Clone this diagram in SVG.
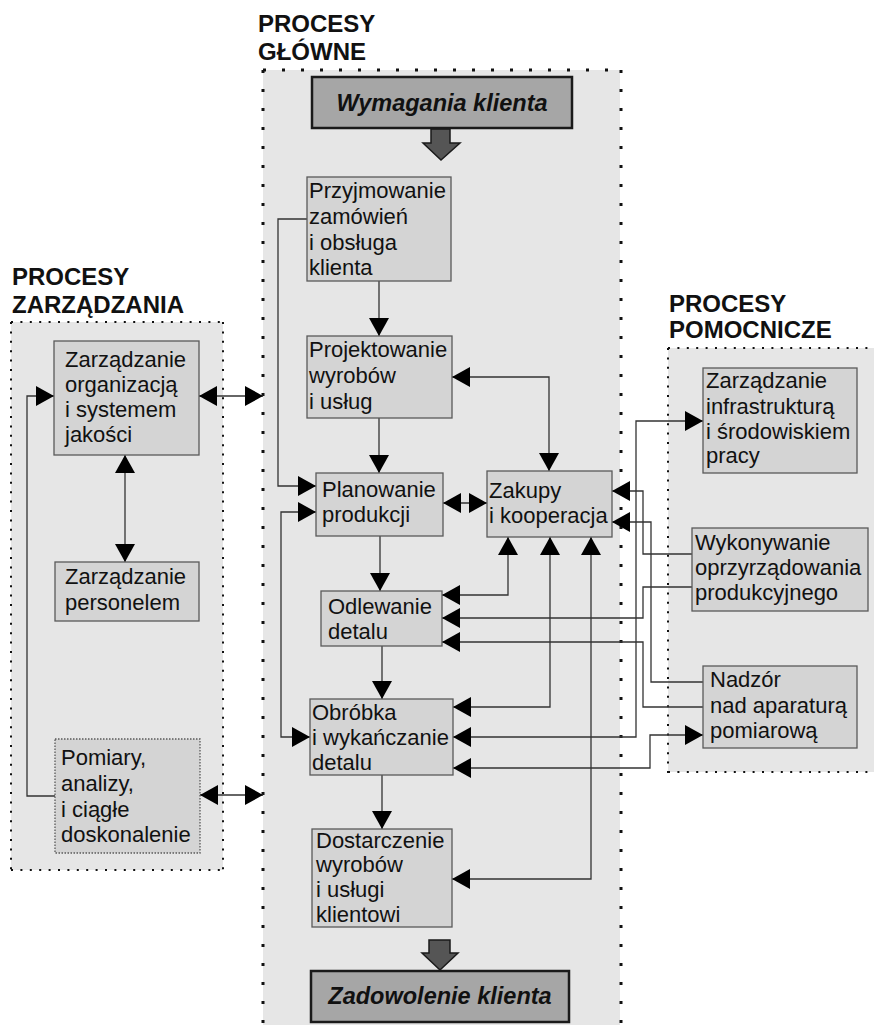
<svg xmlns="http://www.w3.org/2000/svg" width="874" height="1025" viewBox="0 0 874 1025">
<defs>
<style>
.t{font-family:"Liberation Sans",Arial,sans-serif;font-size:22px;fill:#111}
.h{font-family:"Liberation Sans",Arial,sans-serif;font-size:24px;font-weight:bold;fill:#111}
.big{font-family:"Liberation Sans",Arial,sans-serif;font-size:23.5px;font-weight:bold;font-style:italic;fill:#111}
.n{fill:#d4d4d4;stroke:#5a5a5a;stroke-width:1.3}
.bb{fill:#a6a6a6;stroke:#1a1a1a;stroke-width:2.5}
.c{fill:none;stroke:#333;stroke-width:1.3}
.pf{fill:#e6e6e6}
.d1{stroke:#111;stroke-width:3;stroke-dasharray:3 16}
.d2{stroke:#111;stroke-width:2;stroke-dasharray:2 7.4}
.ba{fill:#555;stroke:#1a1a1a;stroke-width:1.5}
</style>
<marker id="ah" viewBox="0 0 18 20" refX="18" refY="10" markerWidth="18" markerHeight="20" markerUnits="userSpaceOnUse" orient="auto-start-reverse"><path d="M0,0 L18,10 L0,20 z" fill="#000"/></marker>
</defs>
<rect width="874" height="1025" fill="#fff"/>

<g id="panels">
<rect class="pf" x="263" y="70" width="357" height="960"/>
<line class="d1" x1="263" y1="70" x2="622" y2="70"/>
<line class="d1" x1="263" y1="70" x2="263" y2="1025"/>
<line class="d1" x1="621" y1="70" x2="621" y2="1025"/>
<text class="h" x="258" y="32">PROCESY</text>
<text class="h" x="258" y="60">GŁÓWNE</text>

<rect class="pf" x="11" y="322" width="212" height="548"/>
<line class="d2" x1="11" y1="322" x2="224" y2="322"/>
<line class="d2" x1="11" y1="322" x2="11" y2="871"/>
<line class="d2" x1="223" y1="322" x2="223" y2="871"/>
<line class="d2" x1="11" y1="870" x2="224" y2="870"/>
<text class="h" x="12" y="285">PROCESY</text>
<text class="h" x="12" y="313">ZARZĄDZANIA</text>

<rect class="pf" x="668" y="348" width="206" height="424"/>
<line class="d2" x1="668" y1="348" x2="874" y2="348"/>
<line class="d2" x1="668" y1="348" x2="668" y2="773"/>
<line class="d2" x1="668" y1="772" x2="874" y2="772"/>
<text class="h" x="669" y="312">PROCESY</text>
<text class="h" x="669" y="338">POMOCNICZE</text>
</g>

<g id="connectors">
<path class="c" d="M379,281 V336" marker-end="url(#ah)"/>
<path class="c" d="M379,418 V473" marker-end="url(#ah)"/>
<path class="c" d="M452,377 H549 V471" marker-start="url(#ah)" marker-end="url(#ah)"/>
<path class="c" d="M307,219 H278 V486 H316" marker-end="url(#ah)"/>
<path class="c" d="M316,512 H281 V737 H310" marker-start="url(#ah)" marker-end="url(#ah)"/>
<path class="c" d="M443,503 H487" marker-start="url(#ah)" marker-end="url(#ah)"/>
<path class="c" d="M380,536 V591" marker-end="url(#ah)"/>
<path class="c" d="M508,537 V595 H442" marker-start="url(#ah)" marker-end="url(#ah)"/>
<path class="c" d="M550,537 V707 H453" marker-start="url(#ah)" marker-end="url(#ah)"/>
<path class="c" d="M591,537 V879 H452" marker-start="url(#ah)" marker-end="url(#ah)"/>
<path class="c" d="M382,646 V699" marker-end="url(#ah)"/>
<path class="c" d="M382,775 V829" marker-end="url(#ah)"/>
<path class="c" d="M692,554 H643 V491 H612" marker-end="url(#ah)"/>
<path class="c" d="M703,682 H651 V522 H612" marker-end="url(#ah)"/>
<path class="c" d="M692,587 H643 V618 H442" marker-end="url(#ah)"/>
<path class="c" d="M703,707 H643 V642 H442" marker-end="url(#ah)"/>
<path class="c" d="M453,737 H636 V421 H703" marker-start="url(#ah)" marker-end="url(#ah)"/>
<path class="c" d="M453,768 H650 V735 H703" marker-start="url(#ah)" marker-end="url(#ah)"/>
<path class="c" d="M199,396 H263" marker-start="url(#ah)" marker-end="url(#ah)"/>
<path class="c" d="M125,455 V562" marker-start="url(#ah)" marker-end="url(#ah)"/>
<path class="c" d="M55,796 H27 V396 H54" marker-end="url(#ah)"/>
<path class="c" d="M200,795 H263" marker-start="url(#ah)" marker-end="url(#ah)"/>
<polygon class="ba" points="431,129 450,129 450,143 460,143 441,160 423,143 431,143"/>
<polygon class="ba" points="429,940 450,940 450,953 458,953 440,970 422,953 429,953"/>
</g>

<g id="wymagania">
<rect class="bb" x="312" y="77" width="260" height="51"/>
<text class="big" x="442" y="111" text-anchor="middle">Wymagania klienta</text>
</g>
<g id="zadowolenie">
<rect class="bb" x="311" y="971" width="258" height="51"/>
<text class="big" x="440" y="1004" text-anchor="middle">Zadowolenie klienta</text>
</g>

<g id="przyjmowanie">
<rect class="n" x="307" y="177" width="144" height="104"/>
<text class="t" x="309" y="198">Przyjmowanie</text>
<text class="t" x="309" y="224">zamówień</text>
<text class="t" x="309" y="250">i obsługa</text>
<text class="t" x="309" y="275">klienta</text>
</g>
<g id="projektowanie">
<rect class="n" x="307" y="336" width="145" height="82"/>
<text class="t" x="309" y="357">Projektowanie</text>
<text class="t" x="309" y="383">wyrobów</text>
<text class="t" x="309" y="409">i usług</text>
</g>
<g id="planowanie">
<rect class="n" x="316" y="473" width="127" height="63"/>
<text class="t" x="322" y="497">Planowanie</text>
<text class="t" x="322" y="522">produkcji</text>
</g>
<g id="zakupy">
<rect class="n" x="487" y="471" width="125" height="66"/>
<text class="t" x="489" y="498">Zakupy</text>
<text class="t" x="489" y="523">i kooperacja</text>
</g>
<g id="odlewanie">
<rect class="n" x="321" y="591" width="121" height="55"/>
<text class="t" x="328" y="614">Odlewanie</text>
<text class="t" x="328" y="639">detalu</text>
</g>
<g id="obrobka">
<rect class="n" x="310" y="699" width="143" height="76"/>
<text class="t" x="312" y="720">Obróbka</text>
<text class="t" x="312" y="745">i wykańczanie</text>
<text class="t" x="312" y="770">detalu</text>
</g>
<g id="dostarczenie">
<rect class="n" x="312" y="829" width="140" height="98"/>
<text class="t" x="316" y="848">Dostarczenie</text>
<text class="t" x="316" y="872">wyrobów</text>
<text class="t" x="316" y="897">i usługi</text>
<text class="t" x="316" y="922">klientowi</text>
</g>

<g id="zarzadzanie-org">
<rect class="n" x="54" y="341" width="145" height="114"/>
<text class="t" x="65" y="367">Zarządzanie</text>
<text class="t" x="65" y="392">organizacją</text>
<text class="t" x="65" y="417">i systemem</text>
<text class="t" x="65" y="442">jakości</text>
</g>
<g id="zarzadzanie-personel">
<rect class="n" x="55" y="562" width="144" height="59"/>
<text class="t" x="65" y="584">Zarządzanie</text>
<text class="t" x="65" y="610">personelem</text>
</g>
<g id="pomiary">
<rect class="n" x="55" y="739" width="145" height="114" stroke-dasharray="1.5 1.5"/>
<text class="t" x="61" y="765">Pomiary,</text>
<text class="t" x="61" y="791">analizy,</text>
<text class="t" x="61" y="817">i ciągłe</text>
<text class="t" x="61" y="842">doskonalenie</text>
</g>

<g id="infrastruktura">
<rect class="n" x="703" y="368" width="154" height="105"/>
<text class="t" x="706" y="388">Zarządzanie</text>
<text class="t" x="706" y="414">infrastrukturą</text>
<text class="t" x="706" y="439">i środowiskiem</text>
<text class="t" x="706" y="463">pracy</text>
</g>
<g id="wykonywanie">
<rect class="n" x="692" y="528" width="176" height="83"/>
<text class="t" x="695" y="550">Wykonywanie</text>
<text class="t" x="695" y="575">oprzyrządowania</text>
<text class="t" x="695" y="600">produkcyjnego</text>
</g>
<g id="nadzor">
<rect class="n" x="703" y="666" width="154" height="82"/>
<text class="t" x="710" y="687">Nadzór</text>
<text class="t" x="710" y="713">nad aparaturą</text>
<text class="t" x="710" y="738">pomiarową</text>
</g>
</svg>
